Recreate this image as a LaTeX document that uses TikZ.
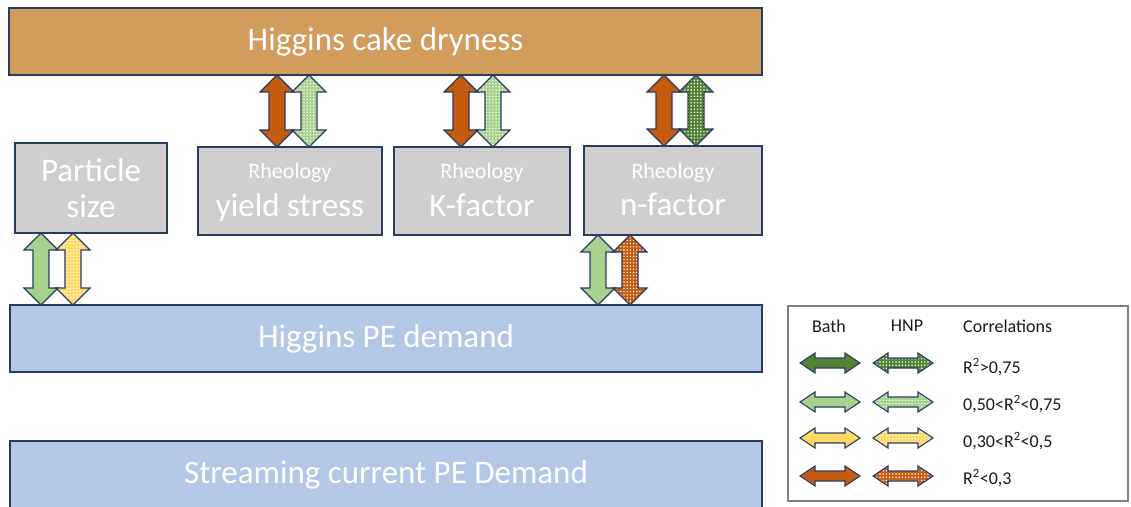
\documentclass[tikz,border=0pt]{standalone}
\usepackage{fontspec}
\setmainfont{Carlito}
\usetikzlibrary{calc,patterns.meta}

\definecolor{edge}{RGB}{40,60,95}
\definecolor{cakefill}{RGB}{209,156,92}
\definecolor{greyfill}{RGB}{208,206,206}
\definecolor{bluefill}{RGB}{180,199,231}
\definecolor{dkgreen}{RGB}{84,130,53}
\definecolor{ltgreen}{RGB}{169,209,142}
\definecolor{amber}{RGB}{255,217,102}
\definecolor{rust}{RGB}{197,90,17}
\definecolor{legendline}{RGB}{128,128,128}
\definecolor{legendtext}{RGB}{25,25,25}

% vertical double arrow at x = #2 from the bottom of node #3 to the top of node #4
\newcommand\vlink[4]{%
  \draw[#1] let \p1=(#3.south), \p2=(#4.north), \p3=(#2,0) in
    (\x3,\y1) -- ({\x3+17pt},{\y1-17pt}) -- ({\x3+8pt},{\y1-17pt})
    -- ({\x3+8pt},{\y2+17pt}) -- ({\x3+17pt},{\y2+17pt}) -- (\x3,\y2)
    -- ({\x3-17pt},{\y2+17pt}) -- ({\x3-8pt},{\y2+17pt})
    -- ({\x3-8pt},{\y1-17pt}) -- ({\x3-17pt},{\y1-17pt}) -- cycle;}

% small horizontal double arrow for the key, centred at (#2,#3)
\newcommand\keyarrow[3]{%
  \draw[#1] (#2,#3) ++(-30pt,0) -- ++(15pt,10pt) -- ++(0,-5pt) -- ++(30pt,0)
    -- ++(0,5pt) -- ++(15pt,-10pt) -- ++(-15pt,-10pt) -- ++(0,5pt)
    -- ++(-30pt,0) -- ++(0,-5pt) -- cycle;}

\tikzset{
  box/.style={draw=edge, line width=1.2pt, outer sep=0pt, inner sep=0pt,
    text=white, align=center, font=\fontsize{33}{38}\selectfont},
  bath/.style={draw=edge, line width=1.1pt, line join=miter, fill=#1},
  hnp/.style={draw=edge, line width=1.1pt, line join=miter,
    preaction={fill=#1},
    preaction={pattern={Dots[radius=0.8pt,distance=3.2pt]}, pattern color=white}},
  keyhead/.style={text=legendtext, font=\fontsize{18}{21}\selectfont, inner sep=0pt},
  keylabel/.style={keyhead, anchor=west},
}

% two-line label: small "Rheology" over the property name
\newcommand\rheo[1]{{\fontsize{22}{26}\selectfont\rule{0pt}{24.2pt}Rheology\strut}\\[-0.5pt]#1\strut}

\begin{document}
\begin{tikzpicture}[x=1pt,y=-1pt]
\useasboundingbox (0,0) rectangle (1131,506);

% boxes
\node[box, fill=cakefill, minimum width=753pt, minimum height=67pt] (cake) at (385.5,41.5) {Higgins cake dryness};
\node[box, fill=greyfill, minimum width=152pt, minimum height=90pt] (ps) at (91,188) {Particle\\[-2pt]size};
\node[box, fill=greyfill, minimum width=184pt, minimum height=88pt] (ys) at (290,191) {\rheo{yield stress}};
\node[box, fill=greyfill, minimum width=176pt, minimum height=88pt] (kf) at (482,191) {\rheo{K-factor}};
\node[box, fill=greyfill, minimum width=178pt, minimum height=89pt] (nf) at (673,190.5) {\rheo{n-factor}};
\node[box, fill=bluefill, minimum width=752pt, minimum height=67pt] (pe) at (386,338.5) {Higgins PE demand};
\node[box, fill=bluefill, minimum width=752pt, minimum height=68pt] (sc) at (386,475) {Streaming current PE Demand};

% correlations between the boxes
\vlink{bath=rust}{277}{cake}{ys}
\vlink{hnp=ltgreen}{309}{cake}{ys}
\vlink{bath=rust}{461}{cake}{kf}
\vlink{hnp=ltgreen}{493}{cake}{kf}
\vlink{bath=rust}{664}{cake}{nf}
\vlink{hnp=dkgreen}{696}{cake}{nf}
\vlink{bath=ltgreen}{41}{ps}{pe}
\vlink{hnp=amber}{73}{ps}{pe}
\vlink{bath=ltgreen}{598}{nf}{pe}
\vlink{hnp=rust}{630}{nf}{pe}

% key
\node[draw=legendline, line width=1.5pt, minimum width=340pt, minimum height=195pt, inner sep=0pt] (key) at (958,403.5) {};
\node[keyhead] (kbath) at (829,326) {Bath};
\node[keyhead] (khnp) at (907,326) {HNP};
\node[keyhead, anchor=west] (kcorr) at (963,326) {Correlations};

\keyarrow{bath=dkgreen}{830}{363}
\keyarrow{hnp=dkgreen}{903}{363}
\keyarrow{bath=ltgreen}{830}{402}
\keyarrow{hnp=ltgreen}{903}{402}
\keyarrow{bath=amber}{830}{438}
\keyarrow{hnp=amber}{903}{438}
\keyarrow{bath=rust}{830}{476}
\keyarrow{hnp=rust}{903}{476}

\node[keylabel] (r1) at (963,367) {R\textsuperscript{2}>0,75};
\node[keylabel] (r2) at (963,404) {0,50<R\textsuperscript{2}<0,75};
\node[keylabel] (r3) at (963,441) {0,30<R\textsuperscript{2}<0,5};
\node[keylabel] (r4) at (963,478) {R\textsuperscript{2}<0,3};
\end{tikzpicture}
\end{document}
